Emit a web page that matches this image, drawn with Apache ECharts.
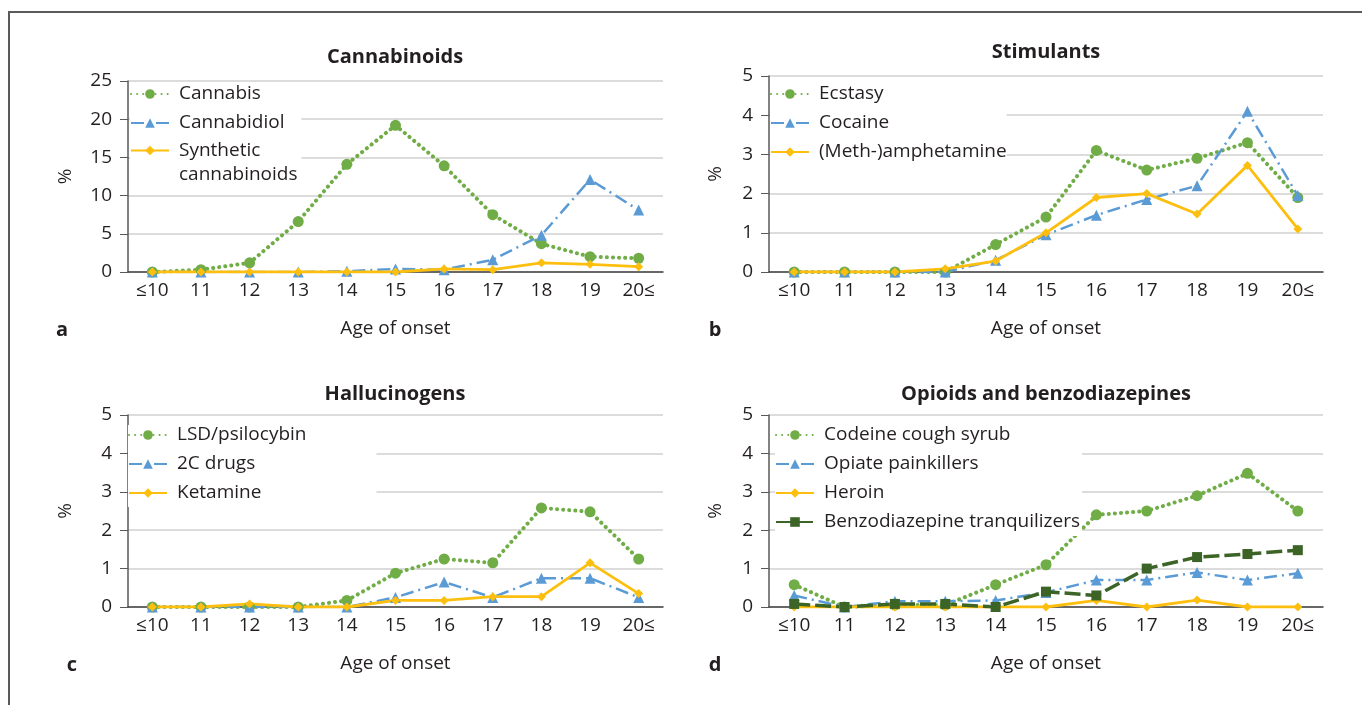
<!DOCTYPE html>
<html>
<head>
<meta charset="utf-8">
<title>Age of onset of substance use</title>
<script src="https://cdn.jsdelivr.net/npm/echarts@6/dist/echarts.min.js"></script>
<style>
  html, body { margin: 0; padding: 0; background: #fff; }
  #chart { width: 1362px; height: 705px; }
</style>
</head>
<body>
<div id="chart"></div>
<script>
const ages = ['≤10', '11', '12', '13', '14', '15', '16', '17', '18', '19', '20≤']

// a - cannabinoids
const cannabis = [0, 0.3, 1.2, 6.6, 14.1, 19.2, 13.9, 7.5, 3.7, 2.0, 1.8]
const cannabidiol = [0, 0, 0, 0, 0.1, 0.4, 0.3, 1.6, 4.8, 12.1, 8.1]
const syntheticCannabinoids = [0, 0, 0, 0, 0, 0, 0.4, 0.3, 1.2, 1.0, 0.7]

// b - stimulants
const ecstasy = [0, 0, 0, 0, 0.7, 1.4, 3.1, 2.6, 2.9, 3.3, 1.9]
const cocaine = [0, 0, 0, 0, 0.3, 0.95, 1.45, 1.85, 2.2, 4.1, 1.95]
const amphetamine = [0, 0, 0, 0.08, 0.28, 1.0, 1.9, 2.0, 1.48, 2.72, 1.1]

// c - hallucinogens
const lsd = [0, 0, 0, 0, 0.17, 0.88, 1.25, 1.15, 2.58, 2.48, 1.25]
const drugs2C = [0, 0, 0, 0, 0, 0.25, 0.65, 0.25, 0.75, 0.75, 0.25]
const ketamine = [0, 0, 0.08, 0, 0, 0.17, 0.17, 0.27, 0.27, 1.15, 0.35]

// d - opioids and benzodiazepines
const codeine = [0.58, 0, 0.05, 0.05, 0.58, 1.1, 2.4, 2.5, 2.9, 3.48, 2.5]
const opiatePainkillers = [0.3, 0, 0.15, 0.15, 0.17, 0.38, 0.7, 0.7, 0.9, 0.7, 0.88]
const heroin = [0, 0, 0, 0, 0, 0, 0.17, 0, 0.18, 0, 0]
const benzodiazepines = [0.08, 0, 0.08, 0.08, 0, 0.4, 0.3, 1.0, 1.3, 1.38, 1.48]

const FONT = '"Open Sans", sans-serif'
const FS = 19
const TEXT = '#231f20'
const GREEN = '#70ad47'
const BLUE = '#5b9bd5'
const GOLD = '#fdbf0f'
const DARK = '#3b6426'

const styles = {
  green: { color: GREEN, lineStyle: { type: [0.1, 6], cap: 'round', width: 4 }, symbol: 'circle', symbolSize: 11 },
  blue: { color: BLUE, lineStyle: { type: [13, 5, 2, 5], width: 2.5 }, symbol: 'triangle', symbolSize: 11 },
  gold: { color: GOLD, lineStyle: { type: 'solid', width: 2.8 }, symbol: 'diamond', symbolSize: 9 },
  dark: { color: DARK, lineStyle: { type: [16, 5], width: 3.5 }, symbol: 'rect', symbolSize: 10 }
}

function line(name, data, style, idx) {
  const s = styles[style]
  return {
    name: name,
    type: 'line',
    xAxisIndex: idx,
    yAxisIndex: idx,
    data: data,
    symbol: s.symbol,
    symbolSize: s.symbolSize,
    showAllSymbol: true,
    itemStyle: { color: s.color },
    lineStyle: Object.assign({ color: s.color }, s.lineStyle),
    animation: false
  }
}

const grids = [
  { left: 128, top: 81, width: 535, height: 191 },
  { left: 769, top: 76, width: 554, height: 196 },
  { left: 128, top: 415, width: 535, height: 192 },
  { left: 769, top: 415, width: 554, height: 192 }
]

function xAxis(idx) {
  return {
    type: 'category',
    gridIndex: idx,
    data: ages,
    boundaryGap: true,
    axisLine: { lineStyle: { color: '#404040', width: 1.5 } },
    axisTick: { alignWithLabel: true, length: 6, lineStyle: { color: '#404040' } },
    axisLabel: { interval: 0, fontSize: FS, color: TEXT, margin: 9, fontFamily: FONT },
    name: 'Age of onset',
    nameLocation: 'middle',
    nameGap: 47,
    nameTextStyle: { fontSize: FS, color: TEXT, fontFamily: FONT }
  }
}

function yAxis(idx, max, interval, gap) {
  return {
    type: 'value',
    gridIndex: idx,
    min: 0,
    max: max,
    interval: interval,
    axisLine: { show: true, lineStyle: { color: '#595959', width: 1.5 } },
    axisTick: { show: true, length: 8, lineStyle: { color: '#595959' } },
    axisLabel: { fontSize: FS, color: TEXT, margin: 16, fontFamily: FONT },
    splitLine: { lineStyle: { color: '#dcdcdc', width: 2 } },
    name: '%',
    nameLocation: 'middle',
    nameGap: gap,
    nameTextStyle: { fontSize: FS, color: TEXT, fontFamily: FONT }
  }
}

function legend(names, left, top, padding, extra) {
  return Object.assign({
    data: names,
    orient: 'vertical',
    left: left,
    top: top,
    padding: padding,
    itemWidth: 38,
    itemHeight: 12,
    itemGap: 9,
    backgroundColor: '#fff',
    textStyle: { fontSize: FS, color: TEXT, fontFamily: FONT, lineHeight: 20, padding: [0, 0, 0, 5] }
  }, extra || {})
}

function label(text, x, y, bold, size) {
  return {
    type: 'text',
    x: x,
    y: y,
    z: 10,
    style: {
      text: text,
      fill: TEXT,
      font: (bold ? 'bold ' : '') + size + 'px ' + FONT,
      textAlign: 'center',
      textVerticalAlign: 'middle'
    }
  }
}

// two-line legend entry: a blank line on top keeps the icon on the first line
const richLine = { fontSize: FS, color: TEXT, fontFamily: FONT, lineHeight: 24 }

const chart = echarts.init(document.getElementById('chart'))
chart.setOption({
  backgroundColor: '#fff',
  animation: false,
  grid: grids,
  xAxis: [xAxis(0), xAxis(1), xAxis(2), xAxis(3)],
  yAxis: [yAxis(0, 25, 5, 53), yAxis(1, 5, 1, 44), yAxis(2, 5, 1, 53), yAxis(3, 5, 1, 44)],
  legend: [
    legend(['Cannabis', 'Cannabidiol'], 130, 84, [0, 17, 53, 0]),
    legend(['Synthetic\ncannabinoids'], 130, 117, 0, {
      backgroundColor: 'transparent',
      formatter: function (name) {
        return '{t| }\n' + name.split('\n').map(function (s) { return '{t|' + s + '}' }).join('\n')
      },
      textStyle: { padding: [0, 0, 0, 5], rich: { t: richLine } }
    }),
    legend(['Ecstasy', 'Cocaine', '(Meth-)amphetamine'], 770, 84, [0, 0, 4, 0]),
    legend(['LSD/psilocybin', '2C drugs', 'Ketamine'], 128, 425, [0, 70, 4, 0]),
    legend(['Codeine cough syrub', 'Opiate painkillers', 'Heroin', 'Benzodiazepine tranquilizers'], 775, 425, [0, 2, 4, 0])
  ],
  graphic: [
    { type: 'polyline', shape: { points: [[9, 705], [9, 12], [1362, 12]] }, style: { stroke: '#5a5a5a', lineWidth: 2, fill: null } },
    label('Cannabinoids', 395, 57, true, 20),
    label('Stimulants', 1046, 52, true, 20),
    label('Hallucinogens', 395, 394, true, 20),
    label('Opioids and benzodiazepines', 1046, 394, true, 20),
    label('a', 62, 330, true, 20),
    label('b', 715, 330, true, 20),
    label('c', 72, 665, true, 20),
    label('d', 715, 665, true, 20)
  ],
  series: [
    line('Cannabis', cannabis, 'green', 0),
    line('Cannabidiol', cannabidiol, 'blue', 0),
    line('Synthetic\ncannabinoids', syntheticCannabinoids, 'gold', 0),
    line('Ecstasy', ecstasy, 'green', 1),
    line('Cocaine', cocaine, 'blue', 1),
    line('(Meth-)amphetamine', amphetamine, 'gold', 1),
    line('LSD/psilocybin', lsd, 'green', 2),
    line('2C drugs', drugs2C, 'blue', 2),
    line('Ketamine', ketamine, 'gold', 2),
    line('Codeine cough syrub', codeine, 'green', 3),
    line('Opiate painkillers', opiatePainkillers, 'blue', 3),
    line('Heroin', heroin, 'gold', 3),
    line('Benzodiazepine tranquilizers', benzodiazepines, 'dark', 3)
  ]
})
</script>
</body>
</html>
